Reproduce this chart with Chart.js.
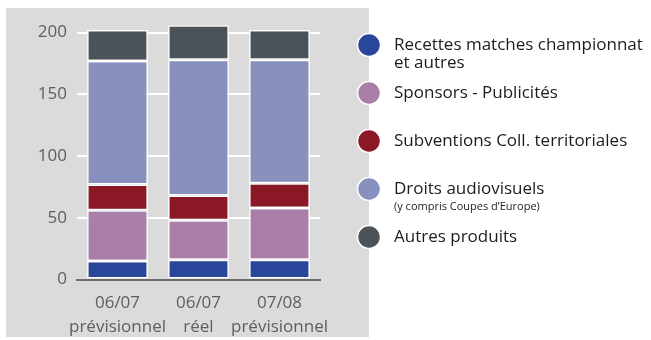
<!DOCTYPE html>
<html lang="fr">
<head>
<meta charset="utf-8">
<title>Produits</title>
<script src="https://cdn.jsdelivr.net/npm/chart.js@4.4.1/dist/chart.umd.min.js"></script>
<style>
  html, body { margin: 0; padding: 0; background: #fff; }
  #chart { display: block; }
</style>
</head>
<body>
<canvas id="chart" width="651" height="340"></canvas>
<script>
// categories (two-line axis labels)
const saisons = [['06/07', 'prévisionnel'], ['06/07', 'réel'], ['07/08', 'prévisionnel']];

// series values, in millions
const recettes = [15, 16, 16];
const sponsors = [41, 32, 42];
const subventions = [21, 20, 20];
const droitsTv = [100, 110, 100];
const autres = [25, 28, 24];

const yTicks = [0, 50, 100, 150, 200];

const seriesNames = [
  'Recettes matches championnat',
  'Sponsors - Publicités',
  'Subventions Coll. territoriales',
  'Droits audiovisuels',
  'Autres produits'
];
const seriesExtra = ['et autres', '', '', '(y compris Coupes d\u2019Europe)', ''];
const seriesColors = ['#28479a', '#a97ea9', '#8a1826', '#8890bd', '#4b5359'];

const FONT = '"Open Sans", "DejaVu Sans", sans-serif';
const PANEL = '#dadbda';

const series = [recettes, sponsors, subventions, droitsTv, autres];

const datasets = series.map((vals, i) => ({
  label: seriesNames[i],
  data: vals,
  backgroundColor: seriesColors[i],
  borderColor: '#ffffff',
  borderWidth: 1.5,
  borderSkipped: false,
  barPercentage: 0.75,
  categoryPercentage: 1
}));

// grey panel behind the plot
const panelPlugin = {
  id: 'panel',
  beforeDraw(chart) {
    const ctx = chart.ctx;
    ctx.save();
    ctx.fillStyle = '#ffffff';
    ctx.fillRect(0, 0, chart.width, chart.height);
    ctx.fillStyle = PANEL;
    ctx.fillRect(6, 8, 363, 329);
    ctx.restore();
  }
};

// round-dot legend on the right, straddling the panel edge
const dotLegend = {
  id: 'dotLegend',
  afterDraw(chart) {
    const ctx = chart.ctx;
    ctx.save();
    chart.data.datasets.forEach((ds, i) => {
      const cy = 45 + i * 48;
      ctx.beginPath();
      ctx.arc(369, cy, 11.5, 0, Math.PI * 2);
      ctx.fillStyle = ds.backgroundColor;
      ctx.fill();
      ctx.lineWidth = 1.5;
      ctx.strokeStyle = '#ffffff';
      ctx.stroke();

      ctx.fillStyle = '#1c1c1c';
      ctx.textAlign = 'left';
      ctx.textBaseline = 'middle';
      ctx.font = '17px ' + FONT;
      ctx.fillText(ds.label, 394, cy);
      const extra = seriesExtra[i];
      if (extra) {
        if (extra.startsWith('(')) {
          ctx.font = '11px ' + FONT;
        }
        ctx.fillText(extra, 394, cy + 18);
      }
    });
    ctx.restore();
  }
};

function draw() {
  new Chart(document.getElementById('chart'), {
    type: 'bar',
    data: { labels: saisons, datasets: datasets },
    options: {
      responsive: false,
      animation: false,
      devicePixelRatio: 1,
      layout: { padding: { top: 20, right: 331, left: 0, bottom: 0 } },
      plugins: {
        legend: { display: false },
        tooltip: { enabled: false }
      },
      scales: {
        x: {
          stacked: true,
          grid: { display: false, drawTicks: false },
          border: { display: true, color: '#6d6d6d', width: 2 },
          ticks: {
            color: '#5e5e5e',
            font: { family: FONT, size: 17, lineHeight: 1.4 },
            padding: 12,
            maxRotation: 0,
            autoSkip: false
          },
          afterFit(scale) { scale.height = 60.5; }
        },
        y: {
          stacked: true,
          min: 0,
          max: 210,
          afterBuildTicks(scale) {
            scale.ticks = yTicks.map(v => ({ value: v }));
          },
          grid: {
            color: c => (c.tick && c.tick.value === 0 ? 'rgba(0,0,0,0)' : '#ffffff'),
            lineWidth: 2,
            drawTicks: false
          },
          border: { display: false },
          ticks: {
            color: '#5e5e5e',
            font: { family: FONT, size: 17 },
            padding: 10
          },
          afterFit(scale) { scale.width = 77; }
        }
      }
    },
    plugins: [panelPlugin, dotLegend]
  });
}

if (document.fonts && document.fonts.load) {
  document.fonts.load('17px "Open Sans"').then(draw, draw);
} else {
  draw();
}
</script>
</body>
</html>
